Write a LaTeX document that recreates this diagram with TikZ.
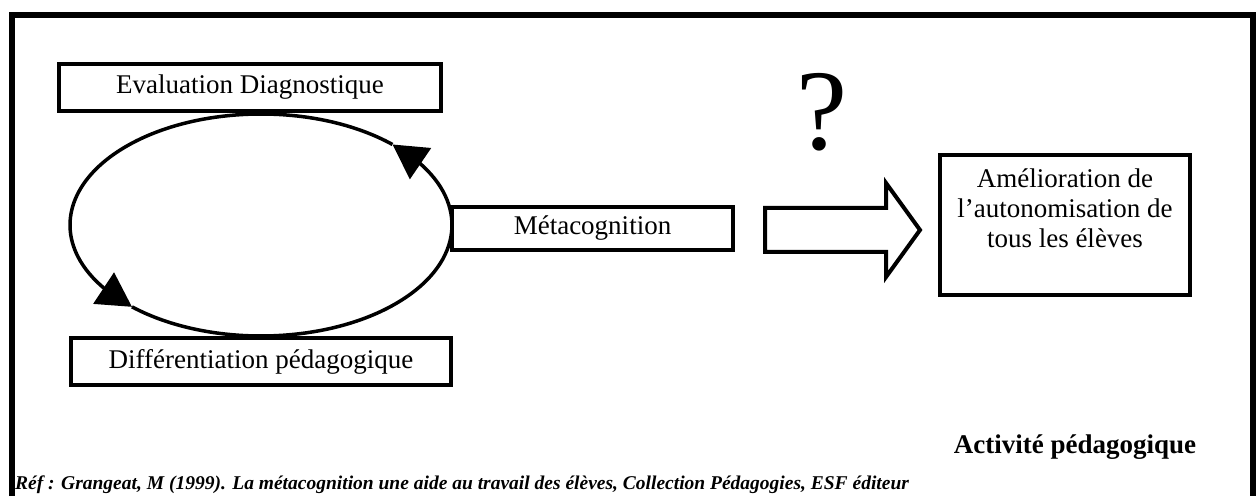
\documentclass[tikz,border=0pt]{standalone}
\usepackage{fontspec}
\setmainfont{Liberation Serif}
\usetikzlibrary{arrows.meta, bending, positioning}

\tikzset{
  boite/.style={draw, line width=4pt, inner sep=0pt},
  texte/.style={font=\fontsize{27}{30}\selectfont},
  boucle/.style={line width=3.5pt, -{Triangle[length=34pt,width=37pt,flex]}},
}

\begin{document}
\begin{tikzpicture}[x=1pt,y=1pt]
\useasboundingbox (0,0) rectangle (1258,496);
% cadre
\draw[line width=6pt] (12,0) -- (12,481) -- (1253,481) -- (1253,0);
% cycle
\node[boite, texte, minimum width=382pt, minimum height=47pt] (evaluation) at (250,408.5) {Evaluation Diagnostique};
\node[boite, texte, minimum width=380pt, minimum height=47pt] (differenciation) at (261,134.5) {Différentiation pédagogique};
\coordinate (centre) at (261,271);
\draw[boucle] (centre) ++(227.5:191 and 111) arc[start angle=227.5, end angle=406.5, x radius=191, y radius=111];
\draw[boucle] (centre) ++(46.5:191 and 111) arc[start angle=46.5, end angle=227.5, x radius=191, y radius=111];
\node[boite, texte, minimum width=281pt, minimum height=43pt] (metacognition) at (592.5,267.5) {Métacognition};
% fleche
\draw[line width=4pt, line join=miter] (765,288) -- (886,288) -- (886,313) -- (920,266) -- (886,219) -- (886,244) -- (765,244) -- cycle;
\node[font=\fontsize{115}{120}\selectfont, inner sep=0pt] (question) at (822,384) {?};
% resultat
\node[boite, minimum width=250pt, minimum height=140pt] (amelioration) at (1065,271) {};
\node[texte, align=center, inner sep=0pt] (amelioration-texte) at (1065,288) {Amélioration de\\ l’autonomisation de\\ tous les élèves};
\node[texte, font=\fontsize{27}{30}\selectfont\bfseries, inner sep=0pt] (activite) at (1075,49) {Activité pédagogique};
\node[anchor=west, inner sep=0pt, font=\fontsize{19.5}{22}\selectfont\bfseries\itshape] (reference) at (15,11) {Réf : Grangeat, M (1999). La métacognition une aide au travail des élèves, Collection Pédagogies, ESF éditeur};
\end{tikzpicture}
\end{document}
